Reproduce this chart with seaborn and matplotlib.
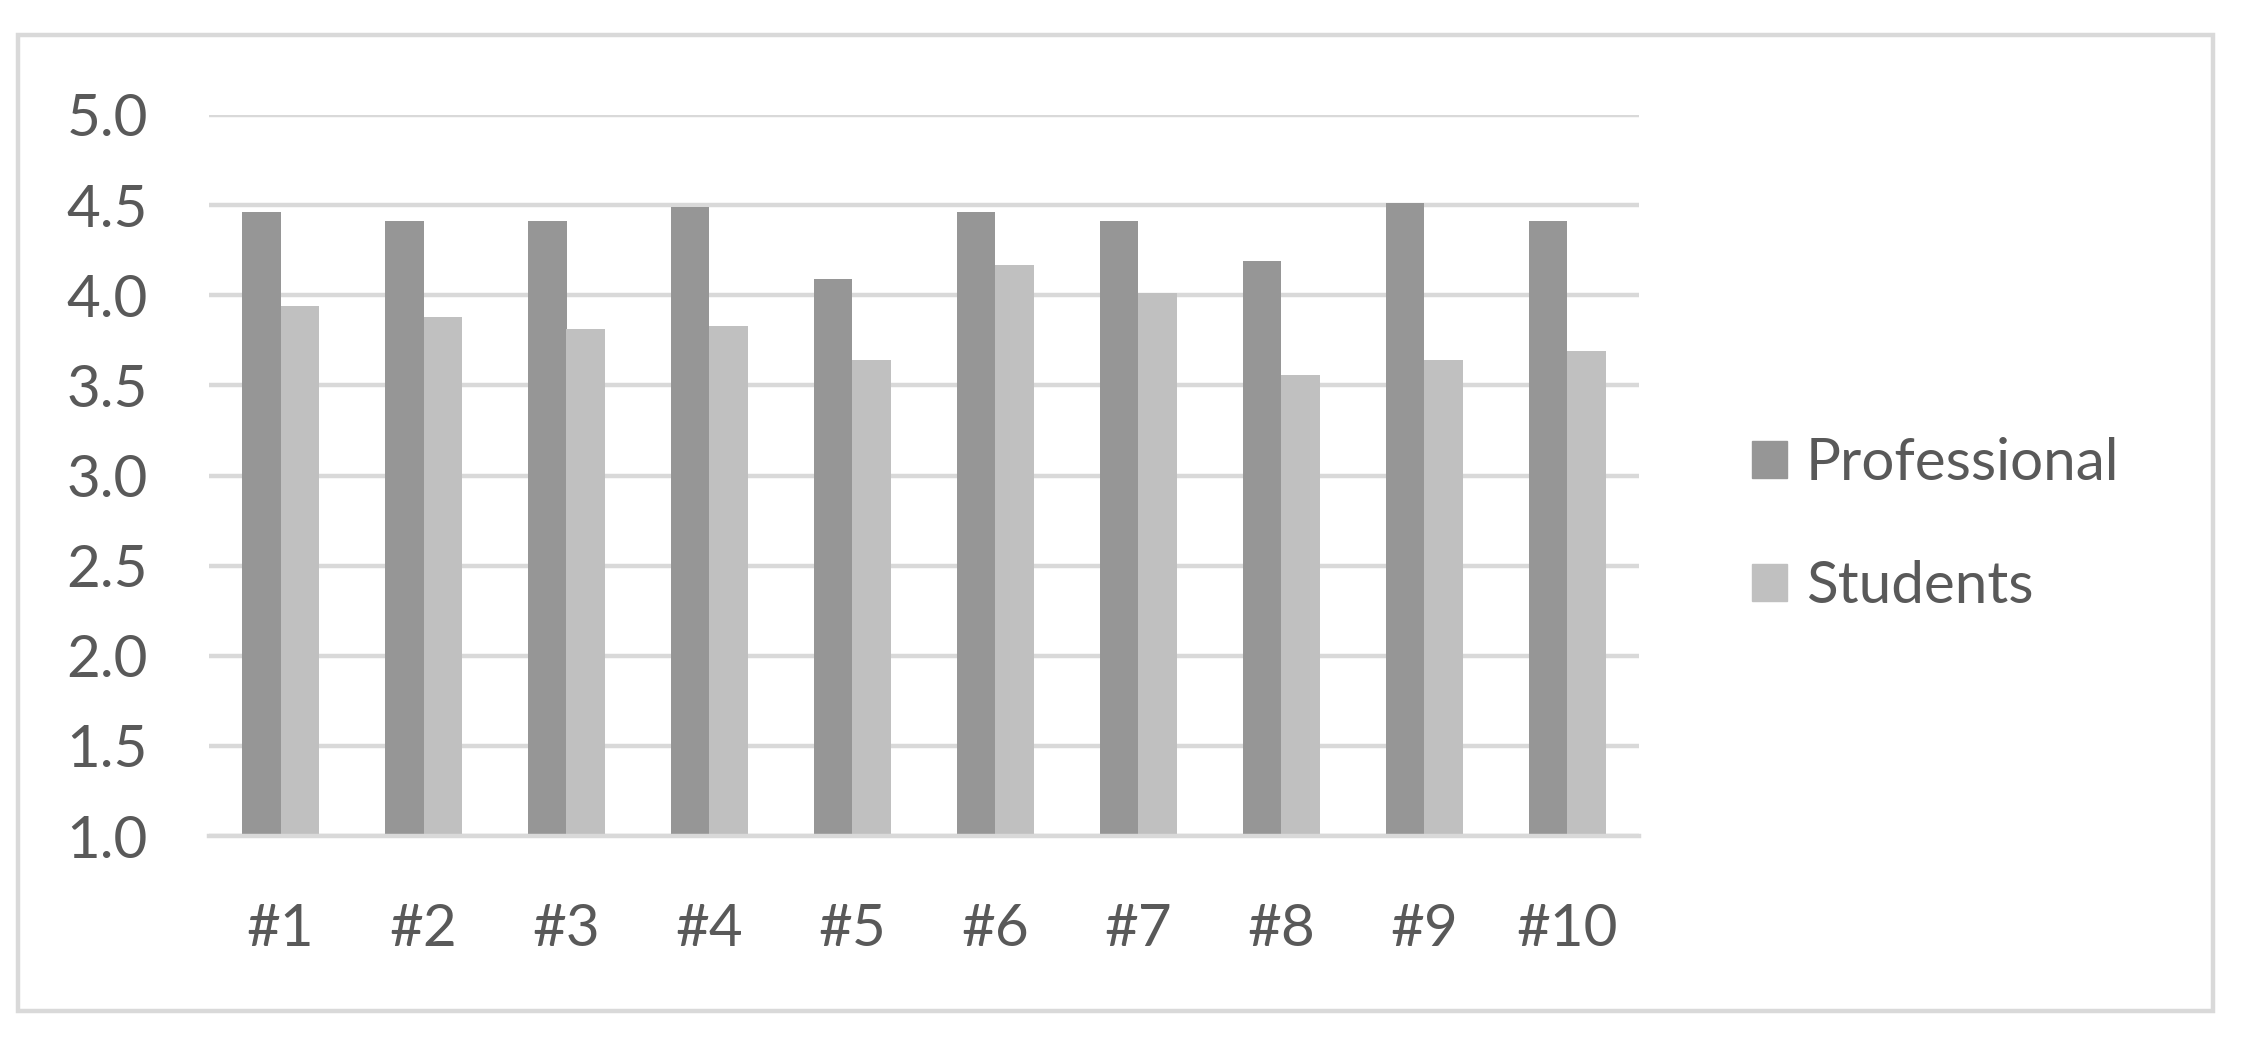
import matplotlib
matplotlib.use("Agg")
import matplotlib.pyplot as plt
import matplotlib.patches as mpatches
import numpy as np
import pandas as pd
import seaborn as sns

# values
items = ["#1", "#2", "#3", "#4", "#5", "#6", "#7", "#8", "#9", "#10"]
groups = ["Professional", "Students"]
professional = [4.46, 4.41, 4.41, 4.49, 4.09, 4.46, 4.41, 4.19, 4.51, 4.41]
students = [3.94, 3.88, 3.81, 3.83, 3.64, 4.17, 4.01, 3.56, 3.64, 3.69]
yticks = [1.0, 1.5, 2.0, 2.5, 3.0, 3.5, 4.0, 4.5, 5.0]
colors = ["#969696", "#c0c0c0"]

df = pd.DataFrame({
    "item": items * 2,
    "group": [groups[0]] * len(items) + [groups[1]] * len(items),
    "score": professional + students,
})

sns.set_theme(style="white")
plt.rcParams["font.family"] = ["Lato", "DejaVu Sans"]

GRID = "#d9d9d9"
TEXT = "#595959"
W, H = 2246, 1053

fig = plt.figure(figsize=(W / 100, H / 100), dpi=100)
ax = fig.add_axes([209 / W, (H - 836) / H, 1430 / W, (836 - 115) / H])

sns.barplot(data=df, x="item", y="score", hue="group", order=items,
            hue_order=groups, palette=colors, width=0.54, saturation=1,
            errorbar=None, linewidth=0, legend=False, ax=ax)

ax.set_ylim(1.0, 5.0)
ax.set_xlim(-0.5, len(items) - 0.5)
ax.set_yticks(yticks)
ax.set_yticklabels([f"{v:.1f}" for v in yticks])
ax.set_xlabel("")
ax.set_ylabel("")

ax.yaxis.grid(True, color=GRID, lw=3.2)
ax.set_axisbelow(True)
for side in ["left", "top", "right"]:
    ax.spines[side].set_visible(False)
ax.spines["bottom"].set_color(GRID)
ax.spines["bottom"].set_linewidth(3.2)

ax.set_xticks(np.arange(-0.5, len(items), 1), minor=True)
ax.tick_params(axis="x", which="minor", length=17, width=3, color=GRID)
ax.tick_params(axis="x", which="major", length=0, pad=48,
               labelsize=42, labelcolor=TEXT)
ax.tick_params(axis="y", length=0, pad=44, labelsize=42, labelcolor=TEXT)

handles = [mpatches.Patch(color=c, label=g) for c, g in zip(colors, groups)]
ax.legend(handles=handles, loc="center left",
          bbox_to_anchor=(1752 / W, (H - 525) / H),
          bbox_transform=fig.transFigure, frameon=False, fontsize=42,
          handlelength=0.6, handleheight=0.6, handletextpad=0.32,
          labelspacing=1.2, borderpad=0, borderaxespad=0, labelcolor=TEXT)

fig.patches.append(mpatches.Rectangle(
    (18 / W, (H - 1011) / H), (2213 - 18) / W, (1011 - 35) / H,
    transform=fig.transFigure, fill=False, ec=GRID, lw=3.2))

fig.savefig("out.png", dpi=100)
